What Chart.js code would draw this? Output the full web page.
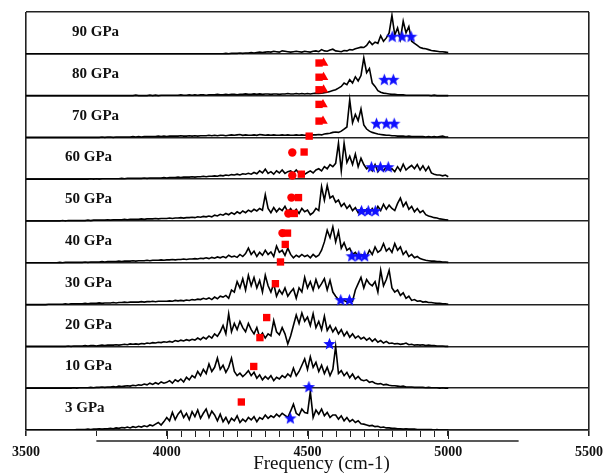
<!DOCTYPE html>
<html><head><meta charset="utf-8">
<script src="https://cdn.jsdelivr.net/npm/chart.js@4.4.1/dist/chart.umd.min.js"></script>
<style>html,body{margin:0;padding:0;background:#fff;}#wrap{width:611px;height:473px;}</style>
</head><body><div id="wrap"><canvas id="c" width="611" height="473"></canvas></div>
<script>
// Frequency grid (cm-1)
const FREQ = [
3500,3510,3520,3530,3540,3550,3560,3570,3580,3590,
3600,3610,3620,3630,3640,3650,3660,3670,3680,3690,
3700,3710,3720,3730,3740,3750,3760,3770,3780,3790,
3800,3810,3820,3830,3840,3850,3860,3870,3880,3890,
3900,3910,3920,3930,3940,3950,3960,3970,3980,3990,
4000,4010,4020,4030,4040,4050,4060,4070,4080,4090,
4100,4110,4120,4130,4140,4150,4160,4170,4180,4190,
4200,4210,4220,4230,4240,4250,4260,4270,4280,4290,
4300,4310,4320,4330,4340,4350,4360,4370,4380,4390,
4400,4410,4420,4430,4440,4450,4460,4470,4480,4490,
4500,4510,4520,4530,4540,4550,4560,4570,4580,4590,
4600,4610,4620,4630,4640,4650,4660,4670,4680,4690,
4700,4710,4720,4730,4740,4750,4760,4770,4780,4790,
4800,4810,4820,4830,4840,4850,4860,4870,4880,4890,
4900,4910,4920,4930,4940,4950,4960,4970,4980,4990,
5000];

const PANEL_LABELS = ['3 GPa','10 GPa','20 GPa','30 GPa','40 GPa','50 GPa','60 GPa','70 GPa','80 GPa','90 GPa'];

// Spectra, intensity as fraction of panel height
const S3 = [
0,0,0,0,0,0,0,0,0,0,
0,0,0,0,0,0,0,0,0.01,0.01,
0.01,0.01,0.02,0.01,0.02,0.02,0.03,0.02,0.03,0.03,
0.04,0.03,0.05,0.04,0.06,0.05,0.07,0.05,0.08,0.06,
0.09,0.07,0.1,0.08,0.12,0.1,0.14,0.18,0.12,0.2,
0.3,0.22,0.42,0.25,0.38,0.46,0.3,0.4,0.25,0.44,
0.32,0.48,0.28,0.4,0.5,0.3,0.45,0.36,0.22,0.38,
0.2,0.3,0.16,0.28,0.22,0.34,0.18,0.26,0.2,0.3,
0.24,0.32,0.2,0.3,0.26,0.36,0.28,0.34,0.3,0.38,
0.32,0.4,0.35,0.3,0.45,0.62,0.4,0.35,0.5,0.42,
0.4,0.92,0.3,0.48,0.38,0.5,0.34,0.42,0.3,0.36,
0.36,0.26,0.34,0.22,0.3,0.2,0.25,0.18,0.22,0.15,
0.14,0.12,0.1,0.11,0.08,0.09,0.06,0.07,0.05,0.05,
0.04,0.04,0.03,0.03,0.02,0.03,0.02,0.02,0.02,0.01,
0.01,0.01,0.01,0.01,0.01,0,0.01,0,0,0,
0];
const S10 = [
0,0,0,0,0,0,0,0,0,0,
0,0,0,0,0,0,0,0.01,0,0.01,
0.01,0.01,0.01,0.02,0.01,0.02,0.02,0.03,0.02,0.03,
0.03,0.04,0.03,0.05,0.04,0.05,0.06,0.05,0.07,0.06,
0.08,0.07,0.1,0.08,0.12,0.09,0.13,0.1,0.15,0.12,
0.14,0.18,0.12,0.2,0.16,0.22,0.15,0.26,0.2,0.3,
0.25,0.4,0.3,0.45,0.35,0.58,0.4,0.5,0.72,0.45,
0.55,0.38,0.5,0.72,0.4,0.3,0.36,0.28,0.34,0.42,
0.3,0.38,0.24,0.32,0.2,0.28,0.22,0.3,0.18,0.26,
0.22,0.3,0.25,0.34,0.28,0.48,0.3,0.4,0.55,0.7,
0.45,0.75,0.5,0.62,0.4,0.55,0.35,0.5,0.3,0.45,
1.0,0.35,0.42,0.3,0.38,0.25,0.34,0.22,0.28,0.2,
0.18,0.2,0.14,0.16,0.12,0.1,0.11,0.08,0.09,0.07,
0.06,0.06,0.05,0.04,0.05,0.03,0.03,0.03,0.02,0.02,
0.02,0.02,0.01,0.02,0.01,0.01,0.01,0,0.01,0,
0];
const S20 = [
0,0,0,0,0,0,0,0,0,0,
0,0,0,0,0,0.01,0,0.01,0.01,0.01,
0.01,0.02,0.01,0.02,0.02,0.01,0.02,0.03,0.02,0.03,
0.03,0.03,0.04,0.03,0.04,0.05,0.04,0.06,0.05,0.06,
0.05,0.07,0.06,0.08,0.07,0.09,0.08,0.1,0.09,0.11,
0.1,0.12,0.1,0.14,0.12,0.15,0.13,0.16,0.14,0.17,
0.15,0.2,0.16,0.22,0.18,0.25,0.2,0.3,0.24,0.35,
0.5,0.3,0.78,0.35,0.55,0.4,0.6,0.45,0.35,0.55,
0.4,0.3,0.45,0.22,0.32,0.2,0.3,0.25,0.62,0.35,
0.28,0.45,0.3,0.06,0.25,0.5,0.75,0.55,0.8,0.6,
0.7,0.5,0.78,0.45,0.6,0.4,0.72,0.38,0.5,0.35,
0.45,0.3,0.4,0.25,0.35,0.22,0.3,0.2,0.25,0.18,
0.22,0.15,0.2,0.12,0.18,0.1,0.14,0.08,0.12,0.07,
0.08,0.06,0.07,0.05,0.06,0.08,0.04,0.05,0.03,0.04,
0.03,0.04,0.02,0.03,0.02,0.02,0.01,0.01,0.01,0,
0];
const S30 = [
0,0,0,0,0,0,0,0,0.01,0.01,
0.01,0.01,0.01,0.01,0.02,0.01,0.02,0.02,0.02,0.02,
0.02,0.03,0.02,0.03,0.03,0.03,0.04,0.03,0.04,0.04,
0.04,0.05,0.04,0.05,0.05,0.06,0.05,0.06,0.06,0.06,
0.06,0.07,0.06,0.07,0.07,0.08,0.07,0.08,0.08,0.08,
0.08,0.09,0.08,0.1,0.09,0.1,0.09,0.11,0.1,0.12,
0.11,0.13,0.12,0.15,0.13,0.16,0.12,0.18,0.14,0.2,
0.18,0.22,0.15,0.35,0.3,0.55,0.4,0.62,0.35,0.7,
0.45,0.65,0.4,0.58,0.3,0.7,0.45,0.3,0.5,0.2,
0.35,0.25,0.4,0.2,0.3,0.38,0.15,0.4,0.3,0.65,
0.4,0.55,0.35,0.6,0.4,0.5,0.62,0.35,0.58,0.3,
0.2,0.12,0.08,0.1,0.06,0.12,0.08,0.35,0.5,0.65,
0.4,0.6,0.5,0.45,0.55,0.3,0.82,0.45,0.6,0.82,
0.4,0.3,0.35,0.22,0.28,0.15,0.2,0.1,0.12,0.08,
0.09,0.06,0.07,0.05,0.05,0.04,0.03,0.03,0.02,0.02,
0.01];
const S40 = [
0,0,0,0,0,0,0,0,0,0,
0,0,0.01,0,0.01,0.01,0.01,0.01,0.01,0.01,
0.01,0.02,0.01,0.02,0.02,0.02,0.02,0.03,0.02,0.03,
0.03,0.03,0.03,0.04,0.03,0.04,0.04,0.04,0.05,0.04,
0.05,0.05,0.05,0.06,0.05,0.06,0.06,0.06,0.07,0.06,
0.07,0.07,0.08,0.07,0.08,0.08,0.09,0.08,0.09,0.09,
0.1,0.09,0.11,0.1,0.12,0.1,0.13,0.11,0.14,0.12,
0.15,0.12,0.18,0.14,0.16,0.13,0.2,0.15,0.22,0.35,
0.2,0.28,0.15,0.25,0.18,0.3,0.2,0.26,0.15,0.4,
0.25,0.3,0.18,0.35,0.2,0.12,0.18,0.14,0.2,0.15,
0.18,0.12,0.2,0.14,0.18,0.3,0.5,0.78,0.6,0.86,
0.5,0.75,0.35,0.48,0.3,0.35,0.2,0.25,0.15,0.2,
0.18,0.15,0.3,0.2,0.38,0.25,0.3,0.46,0.28,0.35,
0.25,0.46,0.3,0.38,0.2,0.28,0.15,0.2,0.12,0.15,
0.1,0.08,0.06,0.05,0.04,0.04,0.03,0.03,0.02,0.02,
0.01];
const S50 = [
0,0,0,0,0,0,0,0,0,0,
0,0,0,0.01,0,0.01,0.01,0.01,0.01,0.01,
0.01,0.01,0.02,0.01,0.02,0.02,0.02,0.02,0.02,0.03,
0.02,0.03,0.03,0.03,0.03,0.04,0.03,0.04,0.04,0.04,
0.04,0.05,0.04,0.05,0.05,0.05,0.06,0.05,0.06,0.06,
0.06,0.07,0.06,0.07,0.07,0.08,0.07,0.08,0.08,0.09,
0.08,0.1,0.09,0.11,0.1,0.12,0.1,0.14,0.12,0.16,
0.14,0.18,0.15,0.2,0.16,0.22,0.18,0.24,0.2,0.26,
0.22,0.28,0.24,0.3,0.26,0.63,0.3,0.2,0.32,0.22,
0.3,0.25,0.35,0.22,0.3,0.2,0.28,0.18,0.3,0.22,
0.26,0.15,0.2,0.3,0.25,0.82,0.5,0.85,0.55,0.6,
0.45,0.5,0.35,0.42,0.3,0.38,0.25,0.32,0.2,0.3,
0.22,0.28,0.18,0.3,0.2,0.35,0.25,0.4,0.28,0.38,
0.3,0.25,0.42,0.55,0.35,0.45,0.28,0.35,0.22,0.3,
0.2,0.25,0.15,0.12,0.1,0.08,0.07,0.05,0.04,0.03,
0.02];
const S60 = [
0,0,0,0,0,0,0,0,0,0,
0,0,0,0,0,0,0,0,0,0,
0,0,0,0.01,0,0.01,0,0.01,0.01,0.01,
0.01,0.01,0.01,0.01,0.02,0.01,0.02,0.02,0.02,0.02,
0.02,0.02,0.03,0.02,0.03,0.03,0.03,0.03,0.03,0.04,
0.03,0.04,0.04,0.04,0.05,0.04,0.05,0.05,0.05,0.06,
0.05,0.06,0.06,0.07,0.06,0.07,0.07,0.08,0.07,0.09,
0.08,0.1,0.09,0.11,0.1,0.12,0.1,0.13,0.12,0.14,
0.12,0.16,0.13,0.2,0.15,0.24,0.14,0.18,0.12,0.2,
0.15,0.22,0.14,0.18,0.2,0.15,0.22,0.14,0.18,0.12,
0.16,0.2,0.15,0.22,0.25,0.2,0.3,0.25,0.35,0.3,
0.38,0.86,0.2,0.86,0.4,0.55,0.35,0.6,0.3,0.5,
0.35,0.25,0.3,0.2,0.35,0.18,0.28,0.2,0.3,0.22,
0.25,0.18,0.3,0.2,0.36,0.22,0.28,0.33,0.25,0.35,
0.22,0.32,0.2,0.3,0.15,0.12,0.1,0.1,0.08,0.1,
0.06];
const S70 = [
0,0,0,0,0,0,0,0,0,0,
0,0,0,0,0,0,0,0,0,0,
0,0,0,0,0,0,0,0.01,0,0.01,
0.01,0,0.01,0.01,0.01,0.01,0.01,0.01,0.02,0.01,
0.02,0.01,0.02,0.02,0.02,0.02,0.02,0.03,0.02,0.03,
0.02,0.03,0.03,0.03,0.03,0.04,0.03,0.03,0.04,0.03,
0.04,0.03,0.04,0.04,0.04,0.05,0.04,0.05,0.04,0.05,
0.05,0.04,0.05,0.06,0.05,0.06,0.07,0.05,0.06,0.05,
0.05,0.06,0.05,0.07,0.06,0.05,0.06,0.05,0.06,0.05,
0.05,0.06,0.05,0.06,0.05,0.05,0.06,0.05,0.06,0.05,
0.06,0.05,0.06,0.06,0.07,0.06,0.08,0.09,0.1,0.12,
0.13,0.12,0.15,0.2,0.25,0.9,0.35,0.55,0.4,0.68,
0.3,0.2,0.15,0.12,0.1,0.08,0.07,0.06,0.05,0.05,
0.04,0.04,0.03,0.03,0.03,0.02,0.03,0.02,0.02,0.02,
0.02,0.02,0.01,0.02,0.01,0.02,0.01,0.02,0.03,0.01,
0.01];
const S80 = [
0,0,0,0,0,0,0,0,0,0,
0,0,0,0,0,0,0,0,0,0,
0,0,0,0,0,0,0,0,0,0,
0,0,0,0,0,0,0,0,0,0.01,
0,0,0,0,0.01,0,0.01,0,0.01,0.01,
0.01,0.01,0.01,0.01,0.01,0.02,0.01,0.01,0.02,0.01,
0.02,0.01,0.02,0.02,0.01,0.02,0.02,0.02,0.03,0.02,
0.02,0.03,0.02,0.03,0.03,0.02,0.03,0.03,0.04,0.03,
0.03,0.04,0.03,0.04,0.03,0.04,0.04,0.03,0.04,0.04,
0.03,0.04,0.04,0.05,0.04,0.04,0.05,0.04,0.05,0.04,
0.05,0.04,0.05,0.06,0.05,0.06,0.07,0.08,0.1,0.12,
0.14,0.18,0.22,0.3,0.26,0.38,0.3,0.45,0.35,0.48,
0.9,0.55,0.65,0.3,0.22,0.12,0.08,0.06,0.05,0.04,
0.03,0.03,0.02,0.02,0.02,0.01,0.01,0.01,0.01,0.01,
0.01,0.01,0.01,0.01,0,0.01,0,0,0,0,
0];
const S90 = [
0,0,0,0,0,0,0,0,0,0,
0,0,0,0,0,0,0,0,0,0,
0,0,0,0,0,0,0,0,0,0,
0,0,0,0,0,0,0,0,0,0,
0,0,0,0,0,0,0,0,0,0,
0,0,0,0,0,0,0,0,0,0,
0,0,0,0,0,0,0,0,0,0,
0,0.01,0,0.01,0.01,0.01,0.02,0.01,0.02,0.02,
0.03,0.02,0.03,0.04,0.03,0.04,0.05,0.04,0.06,0.05,
0.04,0.07,0.06,0.05,0.04,0.05,0.06,0.05,0.04,0.06,
0.05,0.04,0.06,0.07,0.05,0.1,0.07,0.06,0.09,0.11,
0.07,0.06,0.05,0.08,0.07,0.1,0.09,0.12,0.14,0.16,
0.15,0.2,0.3,0.22,0.28,0.25,0.43,0.3,0.38,0.5,
0.92,0.45,0.62,0.35,0.78,0.5,0.65,0.3,0.25,0.2,
0.15,0.13,0.12,0.1,0.08,0.07,0.06,0.05,0.05,0.04,
0.03];
const SPECTRA = [S3, S10, S20, S30, S40, S50, S60, S70, S80, S90];

// Markers (x: cm-1, y: panel index + fraction)
const RED_SQ_X = [4265, 4309, 4355, 4331, 4386, 4429, 4421, 4404, 4468, 4453, 4488, 4478, 4506, 4541, 4541, 4541, 4541, 4541];
const RED_SQ_Y = [0.67, 1.52, 2.69, 2.21, 3.50, 4.71, 4.44, 4.02, 5.56, 5.18, 6.65, 6.12, 7.03, 7.79, 7.39, 8.78, 8.44, 8.14];
const RED_CIRCLE_X = [4411, 4443, 4432, 4446, 4446];
const RED_CIRCLE_Y = [4.71, 5.56, 5.18, 6.64, 6.09];
const RED_TRI_X = [4555, 4555, 4557, 4557, 4557];
const RED_TRI_Y = [7.79, 7.39, 8.78, 8.44, 8.14];
const BLUE_STAR_X = [4439, 4505, 4578, 4618, 4649, 4657, 4682, 4703, 4692, 4716, 4741, 4727, 4759, 4787, 4745, 4780, 4808, 4773, 4805, 4801, 4836, 4868];
const BLUE_STAR_Y = [0.29, 1.04, 2.07, 3.12, 3.12, 4.17, 4.17, 4.17, 5.25, 5.25, 5.25, 6.30, 6.30, 6.30, 7.34, 7.34, 7.34, 8.39, 8.39, 9.42, 9.42, 9.42];

const X_TICKS = [3500, 4000, 4500, 5000, 5500];
const PANEL_EDGES = [0,1,2,3,4,5,6,7,8,9,10];
const MINOR_TICKS = [3750,4000,4050,4100,4150,4200,4250,4300,4350,4400,4450,4500,4550,4600,4650,4700,4750,4800,4850,4900,4950,5000];
const X_TITLE = 'Frequency (cm-1)';

function starImage(size, color) {
  const c = document.createElement('canvas');
  c.width = size; c.height = size;
  const g = c.getContext('2d');
  g.fillStyle = color;
  g.beginPath();
  const cx = size / 2, cy = size / 2 + 0.7, R = size / 2, r = R * 0.44;
  for (let k = 0; k < 10; k++) {
    const a = -Math.PI / 2 + k * Math.PI / 5;
    const rr = (k % 2) ? r : R;
    g.lineTo(cx + rr * Math.cos(a), cy + rr * Math.sin(a));
  }
  g.closePath(); g.fill();
  return c;
}
const STAR = starImage(13, '#1010ff');

const zip = (xs, ys) => xs.map((v, k) => ({ x: v, y: ys[k] }));

const datasets = [];
datasets.push({ label: 'stars', data: zip(BLUE_STAR_X, BLUE_STAR_Y), pointStyle: STAR, pointRadius: 6.5, showLine: false, order: 0 });
datasets.push({ label: 'squares', data: zip(RED_SQ_X, RED_SQ_Y), pointStyle: 'rect', pointRadius: 5.2, backgroundColor: '#ff0000', borderWidth: 0, showLine: false, order: 1 });
datasets.push({ label: 'triangles', data: zip(RED_TRI_X, RED_TRI_Y), pointStyle: 'triangle', pointRadius: 5.5, backgroundColor: '#ff0000', borderWidth: 0, showLine: false, order: 1 });
datasets.push({ label: 'circles', data: zip(RED_CIRCLE_X, RED_CIRCLE_Y), pointStyle: 'circle', pointRadius: 4.2, backgroundColor: '#ff0000', borderWidth: 0, showLine: false, order: 1 });
SPECTRA.forEach((s, i) => {
  datasets.push({
    label: PANEL_LABELS[i],
    data: FREQ.map((f, k) => ({ x: f, y: i + s[k] })),
    showLine: true, borderColor: '#000', borderWidth: 1.6, pointRadius: 0, tension: 0, fill: false, order: 2
  });
});

const deco = {
  id: 'deco',
  afterDraw(chart) {
    const { ctx, scales: { x, y } } = chart;
    const yb = y.getPixelForValue(0);
    ctx.save();
    ctx.strokeStyle = '#222';
    ctx.lineWidth = 1.3;
    // secondary axis line
    ctx.beginPath();
    ctx.moveTo(x.getPixelForValue(3750), yb + 11);
    ctx.lineTo(x.getPixelForValue(5250), yb + 11);
    ctx.stroke();
    // minor ticks
    ctx.lineWidth = 1;
    MINOR_TICKS.forEach(f => {
      const px = Math.round(x.getPixelForValue(f)) + 0.5;
      const len = (f % 500 === 0) ? 8 : (f === 3750 ? 5 : 6);
      ctx.beginPath(); ctx.moveTo(px, yb + 1); ctx.lineTo(px, yb + 1 + len); ctx.stroke();
    });
    // panel labels
    ctx.fillStyle = '#111';
    ctx.font = 'bold 15px "Liberation Serif", "Times New Roman", serif';
    ctx.textAlign = 'left';
    ctx.textBaseline = 'middle';
    PANEL_LABELS.forEach((t, i) => {
      const off = i >= 7 ? 46 : 39;
      ctx.fillText(t, x.left + off, y.getPixelForValue(i + 0.52));
    });
    // axis title
    ctx.font = '19px "Liberation Serif", "Times New Roman", serif';
    ctx.textAlign = 'center';
    ctx.fillText(X_TITLE, (x.left + x.right) / 2 + 14, yb + 34);
    ctx.restore();
  }
};

new Chart(document.getElementById('c'), {
  type: 'scatter',
  data: { datasets },
  options: {
    responsive: false,
    animation: false,
    devicePixelRatio: 1,
    layout: { padding: { left: 26, right: 16, top: 12, bottom: 0 } },
    plugins: { legend: { display: false }, tooltip: { enabled: false } },
    scales: {
      x: {
        type: 'linear', min: 3500, max: 5500,
        afterBuildTicks: s => { s.ticks = X_TICKS.map(v => ({ value: v })); },
        afterFit: s => { s.height = 43; },
        ticks: {
          callback: v => String(v), autoSkip: false, maxRotation: 0, padding: 8,
          color: '#111', font: { family: '"Liberation Serif", "Times New Roman", serif', size: 14, weight: 'bold' }
        },
        grid: {
          color: c => (c.tick && (c.tick.value === 3500 || c.tick.value === 5500)) ? '#222' : 'rgba(0,0,0,0)',
          tickColor: '#222', tickLength: 6, lineWidth: 1.6
        },
        border: { display: true, color: '#222', width: 1.6 }
      },
      y: {
        type: 'linear', min: 0, max: 10,
        afterBuildTicks: s => { s.ticks = PANEL_EDGES.map(v => ({ value: v })); },
        afterFit: s => { s.width = 0; },
        ticks: { display: false },
        grid: { color: '#222', lineWidth: 1.6, drawTicks: false },
        border: { display: false }
      }
    }
  },
  plugins: [deco]
});
</script>
</body></html>
